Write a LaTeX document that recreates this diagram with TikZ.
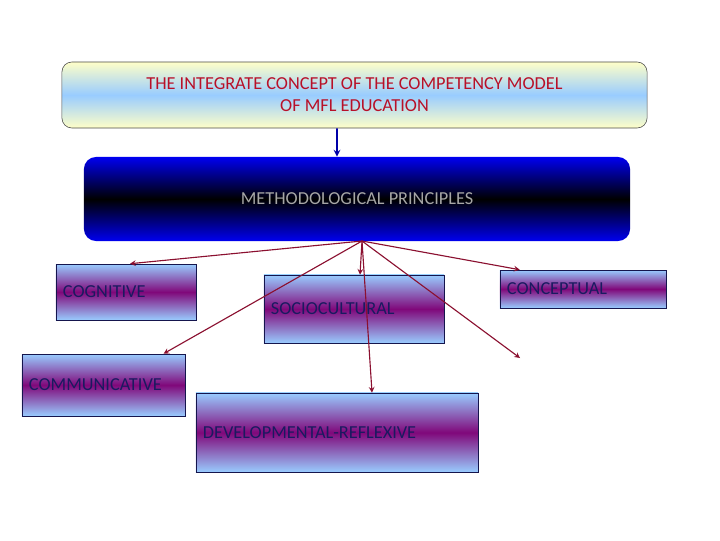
\documentclass[tikz,border=0pt]{standalone}
\usepackage{fontspec}
\setmainfont{Carlito}
\definecolor{paleyellow}{HTML}{FFFFC8}
\definecolor{skyblue}{HTML}{99CCFF}
\definecolor{deepblue}{HTML}{0000F0}
\definecolor{plum}{HTML}{80087A}
\definecolor{wine}{HTML}{8B1030}
\definecolor{navytext}{HTML}{1A1A60}
\definecolor{titlered}{HTML}{B81028}
\definecolor{greytext}{HTML}{A6A6A6}
\tikzstyle{principle}=[draw=navytext!80!black, top color=skyblue, bottom color=skyblue, middle color=plum, text=navytext, font=\fontsize{13}{15}\selectfont, align=left, inner xsep=0.175cm, inner ysep=0pt]
\tikzstyle{branch}=[wine, thick, ->, >=stealth]
\newcommand{\principle}{\node[principle]}

\begin{document}
\begin{tikzpicture}[x=0.025cm, y=-0.025cm]
\useasboundingbox[fill=white] (0,0) rectangle (720,540);
\node[draw=black!70, rounded corners=0.25cm, top color=paleyellow, bottom color=paleyellow, middle color=skyblue, minimum width=14.625cm, minimum height=1.65cm, text=titlered, align=center, font=\fontsize{13}{15.5}\selectfont] (title) at (354.5,95){THE INTEGRATE CONCEPT OF THE COMPETENCY MODEL\\OF MFL EDUCATION};
\node[rounded corners=0.3cm, top color=deepblue, bottom color=deepblue, middle color=black, minimum width=13.65cm, minimum height=2.1cm, text=greytext, font=\fontsize{13}{15}\selectfont] (meth) at (357,199){METHODOLOGICAL PRINCIPLES};
\principle (cog) at (126,292)[minimum width=3.5cm, minimum height=1.4cm, text width=3.15cm]{COGNITIVE};
\principle (soc) at (354,309)[minimum width=4.5cm, minimum height=1.7cm, text width=4.15cm]{SOCIOCULTURAL};
\principle (con) at (583,289)[minimum width=4.15cm, minimum height=0.95cm, text width=3.8cm]{CONCEPTUAL};
\principle (com) at (103.5,385)[minimum width=4.075cm, minimum height=1.55cm, text width=3.725cm]{COMMUNICATIVE};
\principle (dev) at (337,432.5)[minimum width=7.05cm, minimum height=1.975cm, text width=6.7cm]{DEVELOPMENTAL-REFLEXIVE};
\coordinate (hub) at (362,241);
\coordinate (free) at (520,358);
\draw[deepblue!70!black, very thick, ->, >=stealth] ([xshift=-0.4375cm]title.south)--([xshift=-0.5cm]meth.north);
\draw[branch] (hub)--([xshift=0.1cm]cog.north);
\draw[branch] (hub)--([xshift=0.15cm]soc.north);
\draw[branch] (hub)--([xshift=0.5cm]con.north west);
\draw[branch] (hub)--([xshift=1.5cm]com.north);
\draw[branch] (hub)--([xshift=0.875cm]dev.north);
\draw[branch] (hub)--(free);
\end{tikzpicture}
\end{document}
